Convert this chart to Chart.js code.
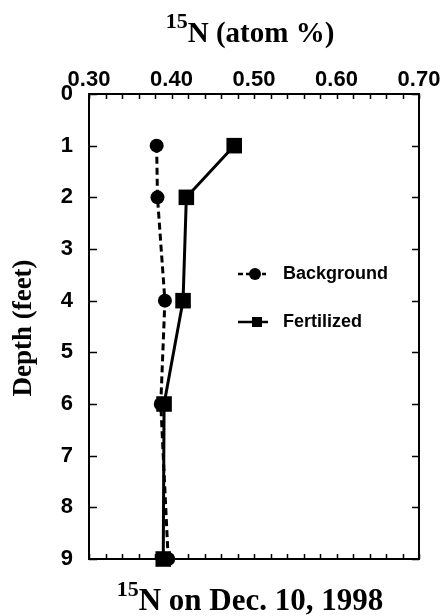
<!DOCTYPE html>
<html>
<head>
<meta charset="utf-8">
<script src="https://cdn.jsdelivr.net/npm/chart.js@4.4.0/dist/chart.umd.min.js"></script>
<style>
  html, body { margin: 0; padding: 0; background: #fff; }
  #wrap { width: 443px; height: 616px; }
</style>
</head>
<body>
<div id="wrap"><canvas id="chart" width="443" height="616"></canvas></div>
<script>
// depth (feet) and 15N atom %
const depths = [1, 2, 4, 6, 9];
const background = [0.382, 0.383, 0.392, 0.387, 0.396];
const fertilized = [0.476, 0.418, 0.414, 0.391, 0.390];
const seriesNames = ["Background", "Fertilized"];
const xRange = [0.30, 0.70];
const depthRange = [0, 9];

const SANS = '"Liberation Sans", Arial, sans-serif';
const SERIF = '"Liberation Serif", "Times New Roman", serif';

function toPoints(values) {
  return values.map((v, i) => ({ x: v, y: depths[i] }));
}

function supText(ctx, sup, main, cx, baseline, supSize, mainSize) {
  ctx.font = "bold " + supSize + "px " + SERIF;
  const w1 = ctx.measureText(sup).width;
  ctx.font = "bold " + mainSize + "px " + SERIF;
  const w2 = ctx.measureText(main).width;
  const x = cx - (w1 + w2) / 2;
  ctx.textAlign = "left";
  ctx.textBaseline = "alphabetic";
  ctx.font = "bold " + supSize + "px " + SERIF;
  ctx.fillText(sup, x, baseline - 14);
  ctx.font = "bold " + mainSize + "px " + SERIF;
  ctx.fillText(main, x + w1, baseline);
}

const frame = {
  id: "frame",
  beforeDatasetsDraw(chart) {
    const { ctx, chartArea: a, scales } = chart;
    ctx.save();
    ctx.strokeStyle = "#000";
    ctx.lineWidth = 2;
    ctx.strokeRect(a.left, a.top, a.right - a.left, a.bottom - a.top);

    // inward minor ticks
    ctx.lineWidth = 1.5;
    ctx.beginPath();
    for (let v = xRange[0]; v <= xRange[1] + 1e-9; v += 0.02) {
      const px = Math.round(scales.x.getPixelForValue(v)) + 0.5;
      ctx.moveTo(px, a.top); ctx.lineTo(px, a.top + 5);
      ctx.moveTo(px, a.bottom); ctx.lineTo(px, a.bottom - 5);
    }
    for (let d = depthRange[0]; d <= depthRange[1]; d++) {
      const py = Math.round(scales.y.getPixelForValue(d)) + 0.5;
      ctx.moveTo(a.left, py); ctx.lineTo(a.left + 8, py);
      ctx.moveTo(a.right, py); ctx.lineTo(a.right - 7, py);
    }
    ctx.stroke();
    ctx.restore();
  },
  afterDraw(chart) {
    const { ctx } = chart;
    ctx.save();
    ctx.fillStyle = "#000";
    ctx.strokeStyle = "#000";

    // titles
    supText(ctx, "15", "N (atom %)", 250, 42, 22, 29);
    supText(ctx, "15", "N on Dec. 10, 1998", 250, 610, 22, 31);

    ctx.save();
    ctx.translate(24, 328);
    ctx.rotate(-Math.PI / 2);
    ctx.font = "bold 27px " + SERIF;
    ctx.textAlign = "center";
    ctx.textBaseline = "middle";
    ctx.fillText("Depth (feet)", 0, 0);
    ctx.restore();

    // legend
    const ly = [274, 322];
    ctx.lineWidth = 2.5;
    ctx.setLineDash([5, 3]);
    ctx.beginPath(); ctx.moveTo(238, ly[0]); ctx.lineTo(266, ly[0]); ctx.stroke();
    ctx.setLineDash([]);
    ctx.beginPath(); ctx.arc(255, ly[0], 6, 0, Math.PI * 2); ctx.fill();
    ctx.beginPath(); ctx.moveTo(238, ly[1]); ctx.lineTo(268, ly[1]); ctx.stroke();
    ctx.fillRect(252, ly[1] - 5, 10, 10);

    ctx.font = "bold 18px " + SANS;
    ctx.textAlign = "left";
    ctx.textBaseline = "middle";
    ctx.fillText(seriesNames[0], 283, ly[0]);
    ctx.fillText(seriesNames[1], 283, ly[1]);
    ctx.restore();
  }
};

new Chart(document.getElementById("chart"), {
  type: "scatter",
  data: {
    datasets: [
      {
        label: seriesNames[0],
        data: toPoints(background),
        showLine: true,
        borderColor: "#000",
        backgroundColor: "#000",
        borderWidth: 3,
        borderDash: [7, 4],
        pointStyle: "circle",
        pointRadius: 7,
        pointBorderWidth: 0,
        order: 1,
        clip: false
      },
      {
        label: seriesNames[1],
        data: toPoints(fertilized),
        showLine: true,
        borderColor: "#000",
        backgroundColor: "#000",
        borderWidth: 3,
        pointStyle: "rect",
        pointRadius: 11,
        pointBorderWidth: 0,
        order: 0,
        clip: false
      }
    ]
  },
  options: {
    responsive: false,
    animation: false,
    layout: { padding: 0 },
    plugins: { legend: { display: false }, tooltip: { enabled: false } },
    scales: {
      x: {
        type: "linear",
        position: "top",
        min: xRange[0],
        max: xRange[1],
        grid: { display: false, drawTicks: false },
        border: { display: false },
        ticks: {
          stepSize: 0.1,
          color: "#000",
          padding: 1,
          font: { family: SANS, size: 22, weight: "bold" },
          callback: v => v.toFixed(2)
        },
        afterFit: s => { s.height = 94; }
      },
      x2: {
        type: "linear",
        axis: "x",
        position: "bottom",
        min: xRange[0],
        max: xRange[1],
        grid: { display: false, drawTicks: false },
        border: { display: false },
        ticks: { display: false },
        afterFit: s => { s.height = 57; }
      },
      y: {
        type: "linear",
        position: "left",
        reverse: true,
        min: depthRange[0],
        max: depthRange[1],
        grid: { display: false, drawTicks: false },
        border: { display: false },
        ticks: {
          stepSize: 1,
          color: "#000",
          padding: 16,
          font: { family: SANS, size: 22, weight: "bold" }
        },
        afterFit: s => { s.width = 89; }
      },
      y2: {
        type: "linear",
        axis: "y",
        position: "right",
        reverse: true,
        min: depthRange[0],
        max: depthRange[1],
        grid: { display: false, drawTicks: false },
        border: { display: false },
        ticks: { display: false },
        afterFit: s => { s.width = 24; }
      }
    }
  },
  plugins: [frame]
});
</script>
</body>
</html>
